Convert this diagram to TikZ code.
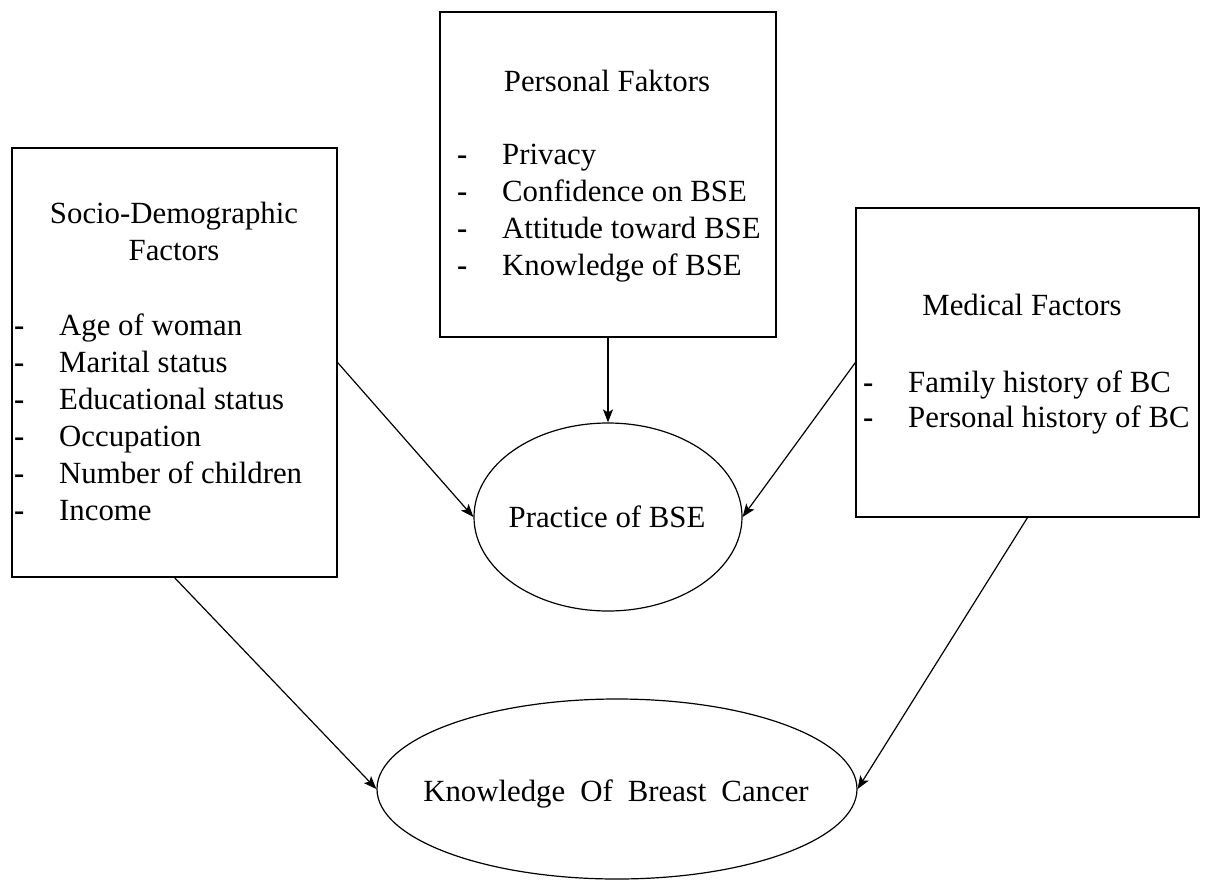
\documentclass[tikz,border=0pt]{standalone}
\usepackage{fontspec}
\setmainfont{Liberation Serif}
\usepackage{tikz}
\usetikzlibrary{arrows.meta,shapes.geometric}

\newcommand{\dashlist}[1]{\begin{tabular}[t]{@{}p{45pt}@{}l@{}}#1\end{tabular}}
\newcommand{\dsh}{\textbf{-}}

\begin{document}
\begin{tikzpicture}[x=1pt,y=-1pt,
    txt/.style={font=\fontsize{30.8}{37}\selectfont, inner sep=0pt},
    factor/.style={draw, line width=1.2pt, rectangle, inner sep=0pt},
    outcome/.style={draw, line width=1.2pt, ellipse, inner sep=0pt},
    arr/.style={line width=1.2pt, -{Stealth[length=13pt,width=10pt,inset=3pt]}}]
        \useasboundingbox (0,0) rectangle (1205,881);

        % boxes
        \node[factor, minimum width=325pt, minimum height=429pt] (soc) at (174.5,362.5) {};
        \node[factor, minimum width=336pt, minimum height=325pt] (pers) at (608,174.5) {};
        \node[factor, minimum width=343pt, minimum height=309pt] (med) at (1027.5,362.5) {};

        % ellipses
        \node[outcome, minimum width=268pt, minimum height=188pt] (prac) at (608,517) {};
        \node[outcome, minimum width=480pt, minimum height=180pt] (know) at (617,789) {};
        \node[txt, anchor=base] (prac-text) at (607,527) {Practice of BSE};
        \node[txt, anchor=base] (know-text) at (616,801)
            {Knowledge\hspace{15pt}Of\hspace{15pt}Breast\hspace{15pt}Cancer};

        % texts
        \node[txt, anchor=base] (soc-title) at (174,223)
            {\begin{tabular}[t]{@{}c@{}}Socio-Demographic\\Factors\end{tabular}};
        \node[txt, anchor=base west] (soc-list) at (14,335)
            {\dashlist{\dsh & Age of woman\\ \dsh & Marital status\\ \dsh & Educational status\\
             \dsh & Occupation\\ \dsh & Number of children\\ \dsh & Income}};

        \node[txt, anchor=base] (pers-title) at (607,91) {Personal Faktors};
        \node[txt, anchor=base west] (pers-list) at (457,164)
            {\dashlist{\dsh & Privacy\\ \dsh & Confidence on BSE\\ \dsh & Attitude toward BSE\\ \dsh & Knowledge of BSE}};

        \node[txt, anchor=base] (med-title) at (1022,315) {Medical Factors};
        \node[txt, anchor=base west, font=\fontsize{30.8}{35}\selectfont] (med-list) at (863,392)
            {\dashlist{\dsh & Family history of BC\\ \dsh & Personal history of BC}};

        % arrows
        \draw[arr] (pers.south) -- (prac.north);
        \draw[arr] (soc.east) -- (prac.west);
        \draw[arr] (med.west) -- (prac.east);
        \draw[arr] (soc.south) -- (know.west);
        \draw[arr] (med.south) -- (know.east);
\end{tikzpicture}
\end{document}
